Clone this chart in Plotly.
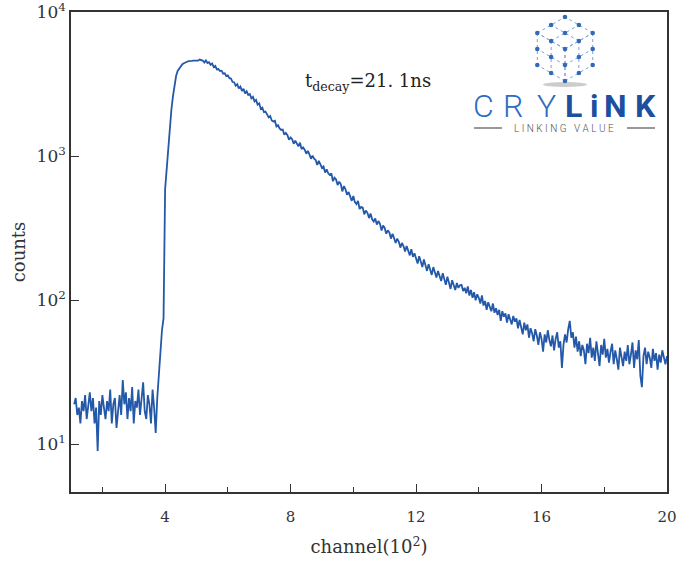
import plotly.graph_objects as go

# ---------------- data (channel in units of 10^2, counts) ----------------
channel_start = 1.10
channel_step = 0.05

baseline_counts = [19, 21, 16, 18, 14, 20, 17, 22, 15, 19, 23, 17, 21, 14, 18, 9, 20, 16, 22, 18,
                   15, 20, 17, 24, 14, 19, 21, 13, 18, 22, 16, 28, 19, 23, 15, 21, 17, 25, 14, 20,
                   18, 24, 16, 21, 27, 17, 15, 22, 19, 14, 24, 18, 12, 21]
rise_counts = [30, 45, 62, 75, 590, 810, 1150, 1450, 2100, 2600, 3150, 3600, 3900, 4050, 4250,
               4350, 4420, 4490, 4520, 4560, 4550, 4580, 4600, 4590, 4620, 4600, 4680, 4650]
decay_counts = [4610, 4470, 4620, 4430, 4490, 4300, 4400, 4150, 4230, 4000, 4020, 3900, 3920, 3740,
                3760, 3600, 3640, 3480, 3460, 3270, 3260, 3080, 3160, 2950, 3040, 2840, 2930, 2730,
                2820, 2660, 2700, 2520, 2580, 2400, 2460, 2280, 2330, 2130, 2170, 2020,
                2040, 1950, 1860, 1900, 1770, 1740, 1760, 1610, 1640, 1560,
                1520, 1530, 1410, 1450, 1400, 1300, 1350, 1310, 1220, 1280,
                1230, 1170, 1240, 1120, 1150, 1110, 1040, 1090, 1030, 960,
                1010, 960, 940, 870, 930, 880, 830, 850, 770, 810,
                760, 740, 760, 670, 710, 690, 630, 665, 640, 570,
                620, 590, 540, 565, 520, 490, 530, 480, 465, 490,
                430, 445, 440, 395, 420, 405, 372, 400, 365, 352,
                370, 335, 355, 340, 305, 330, 318, 290, 306, 295,
                268, 290, 270, 250, 268, 255, 232, 250, 238, 218,
                238, 222, 205, 226, 200, 212, 196, 180, 202, 186,
                170, 192, 176, 160, 178, 166, 150, 170, 155, 144,
                160, 148, 136, 154, 140, 128, 146, 134, 120, 138,
                125, 118, 132, 122, 127]
tail_counts = [128, 116, 122, 112, 125, 108, 118, 104, 114, 100, 110, 104, 95, 108, 92, 99, 86, 97,
               90, 84, 95, 82, 88, 79, 86, 72, 84, 77, 81, 70, 80, 74, 68, 78, 71, 75, 64, 73, 66,
               58, 70, 62, 68, 55, 64, 59, 52, 63, 57, 49, 60, 54, 44, 58, 51, 62, 53, 48, 57, 45,
               54, 60, 47, 52, 34, 49, 58, 51, 63, 72, 55, 60, 47, 56, 44, 52, 41, 49, 45, 36, 50,
               43, 55, 40, 47, 38, 52, 44, 35, 49, 42, 54, 40, 46, 37, 44, 50, 36, 45, 39, 33, 47,
               41, 35, 44, 38, 49, 36, 42, 51, 34, 45, 39, 53, 30, 25, 41, 47, 36, 44, 40, 34, 46,
               38, 43, 33, 42, 37, 45, 39, 36, 41]

counts = baseline_counts + rise_counts + decay_counts + tail_counts
channels = [round(channel_start + channel_step * i, 2) for i in range(len(counts))]

x_tick_vals = [4, 8, 12, 16, 20]
x_tick_text = ["4", "8", "12", "16", "20"]
y_tick_vals = [10, 100, 1000, 10000]
y_tick_text = ["10<sup>1</sup>", "10<sup>2</sup>", "10<sup>3</sup>", "10<sup>4</sup>"]

# ---------------- figure ----------------
W, H = 677, 561
L, R, T, B = 71, 10, 12, 69
PW, PH = W - L - R, H - T - B

def px(x):
    return (x - L) / PW

def py(y):
    return (H - B - y) / PH

SERIF = "DejaVu Serif, Liberation Serif, serif"
LINE = "#2458a8"

fig = go.Figure()
fig.add_trace(go.Scatter(x=channels, y=counts, mode="lines",
                         line=dict(color=LINE, width=1.8), hoverinfo="skip",
                         showlegend=False))

axis_common = dict(showgrid=False, zeroline=False, showline=True, linecolor="#333333",
                   linewidth=1.6, mirror=True, ticks="inside", tickcolor="#333333",
                   tickwidth=1.4, automargin=False, ticklabeloverflow="allow")

fig.update_xaxes(range=[1.0, 20.0], tickvals=x_tick_vals, ticktext=x_tick_text, ticklen=8,
                 ticklabelstandoff=10,
                 tickfont=dict(family=SERIF, size=15, color="#333333"),
                 minor=dict(dtick=2, tick0=0, ticks="inside", ticklen=5, tickcolor="#333333",
                            tickwidth=1.2),
                 title=dict(text="channel(10<sup>2</sup>)", standoff=16,
                            font=dict(family=SERIF, size=18, color="#333333")),
                 **axis_common)
fig.update_yaxes(type="log", range=[0.67, 4.0005], tickvals=y_tick_vals, ticktext=y_tick_text,
                 ticklen=8, tickfont=dict(family=SERIF, size=17, color="#333333"),
                 title=dict(text="counts", standoff=6,
                            font=dict(family=SERIF, size=18, color="#333333")),
                 **axis_common)

annotations = [
    dict(x=px(303), y=py(82), xref="paper", yref="paper", xanchor="left", yanchor="middle",
         showarrow=False, text="t<sub>decay</sub>=21. 1ns",
         font=dict(family=SERIF, size=18, color="#222222")),
]

# ---------------- logo (decoration) ----------------
letters = [("C", 483, "#2d6cc0", 300), ("R", 513, "#2d6cc0", 300), ("Y", 546, "#2d6cc0", 300),
           ("L", 573, "#1c4f9f", 700), ("i", 594, "#1c4f9f", 700), ("N", 615, "#1c4f9f", 700),
           ("K", 645, "#1c4f9f", 700)]
for ch, cx, col, wt in letters:
    annotations.append(dict(x=px(cx), y=py(106), xref="paper", yref="paper", xanchor="center",
                            yanchor="middle", showarrow=False, text=ch,
                            font=dict(family="Roboto, Liberation Sans, sans-serif", size=32,
                                      color=col, weight=wt)))
annotations.append(dict(x=px(564), y=py(128), xref="paper", yref="paper", xanchor="center",
                        yanchor="middle", showarrow=False,
                        text="L I N K I N G &nbsp; V A L U E",
                        font=dict(family="Roboto, Liberation Sans, sans-serif", size=10,
                                  color="#555555", weight=300)))

shapes = []
for x0, x1 in [(474, 502), (627, 655)]:
    shapes.append(dict(type="line", xref="paper", yref="paper", x0=px(x0), x1=px(x1),
                       y0=py(128), y1=py(128), line=dict(color="#777777", width=1.5)))
# shadow under cube
shapes.append(dict(type="circle", xref="paper", yref="paper", x0=px(543), x1=px(587),
                   y0=py(82), y1=py(87), fillcolor="rgba(110,110,110,0.35)", line_width=0))

# isometric cube lattice
cx0, cy0, a = 565, 49, 32
c30 = 0.866
vul = (-a * c30, -a / 2)
vur = (a * c30, -a / 2)
vdn = (0, a)
faces = [(vul, vur), (vur, vdn), (vul, vdn)]
pts = set()
for u, v in faces:
    for i in range(3):
        s = i / 2
        xa, ya = cx0 + s * u[0], cy0 + s * u[1]
        shapes.append(dict(type="line", xref="paper", yref="paper",
                           x0=px(xa), y0=py(ya), x1=px(xa + v[0]), y1=py(ya + v[1]),
                           line=dict(color="#7aa3dc", width=1, dash="dot")))
        xb, yb = cx0 + s * v[0], cy0 + s * v[1]
        shapes.append(dict(type="line", xref="paper", yref="paper",
                           x0=px(xb), y0=py(yb), x1=px(xb + u[0]), y1=py(yb + u[1]),
                           line=dict(color="#7aa3dc", width=1, dash="dot")))
        for j in range(3):
            t = j / 2
            pts.add((round(cx0 + s * u[0] + t * v[0], 1), round(cy0 + s * u[1] + t * v[1], 1)))
for (x, y) in sorted(pts):
    r = 2.3
    shapes.append(dict(type="circle", xref="paper", yref="paper",
                       x0=px(x - r), x1=px(x + r), y0=py(y + r), y1=py(y - r),
                       fillcolor="#3569b8", line_width=0))

fig.update_layout(width=W, height=H, margin=dict(l=L, r=R, t=T, b=B),
                  plot_bgcolor="white", paper_bgcolor="white",
                  annotations=annotations, shapes=shapes, showlegend=False)

fig.write_html("out.html", config={"displayModeBar": False},
               post_script="document.body.style.margin='0';document.body.style.overflow='hidden';")
